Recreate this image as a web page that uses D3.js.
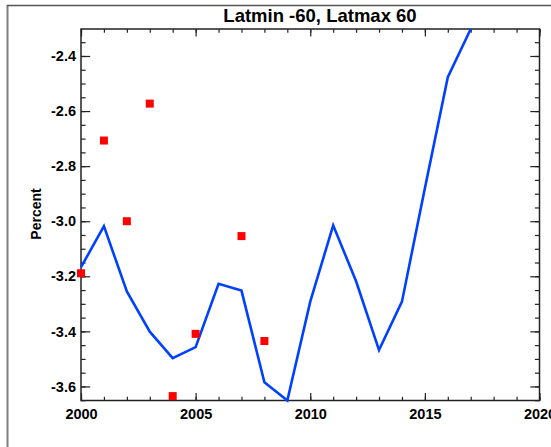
<!DOCTYPE html>
<html>
<head>
<meta charset="utf-8">
<script src="https://cdn.jsdelivr.net/npm/d3@7/dist/d3.min.js"></script>
<style>
  html, body { margin: 0; padding: 0; background: #fff; }
  svg { display: block; }
  text { font-family: "Liberation Sans", Arial, sans-serif; font-weight: bold; fill: #000; }
</style>
</head>
<body>
<script>
// Annual series (percent)
const years = [2000, 2001, 2002, 2003, 2004, 2005, 2006, 2007, 2008,
               2009, 2010, 2011, 2012, 2013, 2014, 2015, 2016, 2017];
const lineValues = [-3.167, -3.018, -3.255, -3.401, -3.497, -3.457, -3.227, -3.252, -3.585,
                    -3.651, -3.292, -3.015, -3.218, -3.468, -3.292, -2.880, -2.477, -2.302];

// Point observations
const pointYears = [2000, 2001, 2002, 2003, 2004, 2005, 2007, 2008];
const pointValues = [-3.189, -2.707, -3.000, -2.573, -3.635, -3.409, -3.054, -3.435];

// Axis ticks and labels
const xTickValues = [2000, 2005, 2010, 2015, 2020];
const xMinorTicks = d3.range(2000, 2021, 1);
const yTickValues = [-3.6, -3.4, -3.2, -3.0, -2.8, -2.6, -2.4];
const yMinorTicks = d3.range(-3.65, -2.29, 0.05).map(v => +v.toFixed(2));

const titleText = "Latmin -60, Latmax 60";
const yLabelText = "Percent";

const W = 551, H = 447;
const plot = { left: 81, right: 539.5, top: 29, bottom: 400.5 };

const svg = d3.select("body").append("svg").attr("width", W).attr("height", H);

// Window frame
svg.append("line").attr("x1", 7.5).attr("x2", 7.5).attr("y1", 5).attr("y2", H)
  .attr("stroke", "#808080").attr("stroke-width", 2);
svg.append("line").attr("x1", 7).attr("x2", W).attr("y1", 5.5).attr("y2", 5.5)
  .attr("stroke", "#555").attr("stroke-width", 1.5);

const x = d3.scaleLinear().domain([2000, 2020]).range([plot.left, plot.right]);
const y = d3.scaleLinear().domain(d3.extent(lineValues)).range([plot.bottom, plot.top]);

const majX = 7.4, minX = 3.7, majY = 9.2, minY = 4.6;
const axisColor = "#222";

function styleAxis(g) {
  g.selectAll("path.domain").remove();
  g.selectAll(".tick line").attr("stroke", axisColor).attr("stroke-width", 1.2);
  g.selectAll("text").attr("font-size", 14.5).attr("font-family", "'Liberation Sans', Arial, sans-serif")
    .attr("font-weight", "bold").attr("fill", "#000");
}

const yInRange = v => v >= y.domain()[0] - 1e-9 && v <= y.domain()[1] + 1e-9;

// Bottom axis (labels) and top mirror
svg.append("g").attr("transform", `translate(0,${plot.bottom})`)
  .call(d3.axisBottom(x).tickValues(xMinorTicks).tickSize(-minX).tickFormat("")).call(styleAxis);
svg.append("g").attr("transform", `translate(0,${plot.bottom})`)
  .call(d3.axisBottom(x).tickValues(xTickValues).tickSize(-majX).tickPadding(8)
    .tickFormat(d3.format("d"))).call(styleAxis);
svg.append("g").attr("transform", `translate(0,${plot.top})`)
  .call(d3.axisTop(x).tickValues(xMinorTicks).tickSize(-minX).tickFormat("")).call(styleAxis);
svg.append("g").attr("transform", `translate(0,${plot.top})`)
  .call(d3.axisTop(x).tickValues(xTickValues).tickSize(-majX).tickFormat("")).call(styleAxis);

// Left axis (labels) and right mirror
svg.append("g").attr("transform", `translate(${plot.left},0)`)
  .call(d3.axisLeft(y).tickValues(yMinorTicks.filter(yInRange)).tickSize(-minY).tickFormat("")).call(styleAxis);
svg.append("g").attr("transform", `translate(${plot.left},0)`)
  .call(d3.axisLeft(y).tickValues(yTickValues).tickSize(-majY).tickPadding(5)
    .tickFormat(d => d.toFixed(1))).call(styleAxis);
svg.append("g").attr("transform", `translate(${plot.right},0)`)
  .call(d3.axisRight(y).tickValues(yMinorTicks.filter(yInRange)).tickSize(-minY).tickFormat("")).call(styleAxis);
svg.append("g").attr("transform", `translate(${plot.right},0)`)
  .call(d3.axisRight(y).tickValues(yTickValues).tickSize(-majY).tickFormat("")).call(styleAxis);

// Plot box
svg.append("rect").attr("x", plot.left).attr("y", plot.top)
  .attr("width", plot.right - plot.left).attr("height", plot.bottom - plot.top)
  .attr("fill", "none").attr("stroke", axisColor).attr("stroke-width", 1.5);

// Line series
const lineData = years.map((yr, i) => [yr, lineValues[i]]);
svg.append("path").datum(lineData)
  .attr("fill", "none").attr("stroke", "#0040ff").attr("stroke-width", 2.6)
  .attr("stroke-linejoin", "miter")
  .attr("d", d3.line().x(d => x(d[0])).y(d => y(d[1])));

// Point markers
const ms = 8;
svg.append("g").selectAll("rect").data(pointYears.map((yr, i) => [yr, pointValues[i]]))
  .join("rect")
  .attr("x", d => x(d[0]) - ms / 2).attr("y", d => y(d[1]) - ms / 2)
  .attr("width", ms).attr("height", ms).attr("fill", "#ff0000");

// Title and axis label
svg.append("text").attr("x", 320).attr("y", 22).attr("text-anchor", "middle")
  .attr("font-size", 18.5).text(titleText);
svg.append("text").attr("transform", "translate(41,214) rotate(-90)")
  .attr("text-anchor", "middle").attr("font-size", 14).text(yLabelText);
</script>
</body>
</html>
